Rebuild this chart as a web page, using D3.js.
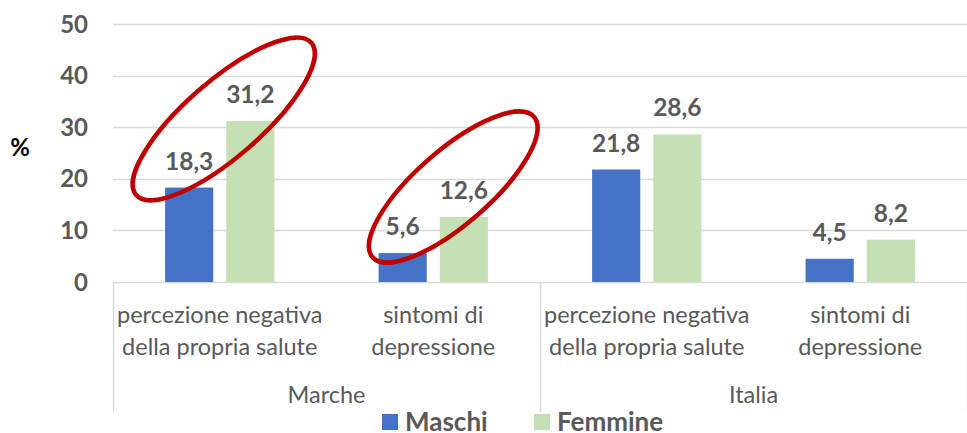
<!DOCTYPE html>
<html>
<head>
<meta charset="utf-8">
<script src="https://cdn.jsdelivr.net/npm/d3@7"></script>
<style>
  body { margin: 0; background: #fff; }
  text { font-family: Lato, "Open Sans", sans-serif; }
</style>
</head>
<body>
<svg id="chart" width="967" height="433"></svg>
<script>
var groups = ["Marche", "Italia"];
var categories = [["percezione negativa", "della propria salute"], ["sintomi di", "depressione"]];
var series = ["Maschi", "Femmine"];
var maschi = [18.3, 5.6, 21.8, 4.5];
var femmine = [31.2, 12.6, 28.6, 8.2];
var yTicks = [0, 10, 20, 30, 40, 50];
var colors = ["#4472C4", "#C5E0B4"];

// red circled pairs (Marche only), centre given in axis units
var highlights = [
  { group: "Marche", cat: 0, value: 31.6, shift: 4, rx: 116, ry: 38 },
  { group: "Marche", cat: 1, value: 18.4, shift: 20, rx: 107, ry: 37 }
];

var svg = d3.select("#chart"),
    plotLeft = 113, plotRight = 967, plotTop = 24, plotBottom = 282;

var it = d3.formatLocale({ decimal: ",", thousands: ".", grouping: [3], currency: ["", "€"] });
var fmt = it.format(".1f");

var y = d3.scaleLinear().domain([0, 50]).range([plotBottom, plotTop]);

var xGroup = d3.scaleBand().domain(groups).range([plotLeft, plotRight]);
var xCat = d3.scaleBand().domain(d3.range(categories.length)).range([0, xGroup.bandwidth()]);
var xSer = d3.scaleBand().domain(series).range([0, xCat.bandwidth()])
  .paddingInner(0.213).paddingOuter(0.852);

// gridlines
svg.append("g")
  .selectAll("line")
  .data(yTicks)
  .join("line")
  .attr("x1", plotLeft)
  .attr("x2", plotRight)
  .attr("y1", function(d){ return Math.round(y(d)) + 0.5; })
  .attr("y2", function(d){ return Math.round(y(d)) + 0.5; })
  .attr("stroke", "#d9d9d9")
  .attr("stroke-width", 1.5);

// y tick labels
svg.append("g")
  .selectAll("text")
  .data(yTicks)
  .join("text")
  .attr("x", 88)
  .attr("y", function(d){ return y(d); })
  .attr("dy", "0.36em")
  .attr("text-anchor", "end")
  .attr("font-size", 24)
  .attr("font-weight", "bold")
  .attr("fill", "#595959")
  .text(function(d){ return d; });

svg.append("text")
  .attr("x", 20)
  .attr("y", 147)
  .attr("dy", "0.36em")
  .attr("text-anchor", "middle")
  .attr("font-size", 24)
  .attr("font-weight", "bold")
  .attr("fill", "#000")
  .text("%");

// rows: one per group x category
var rows = [];
groups.forEach(function(g, gi){
  categories.forEach(function(c, ci){
    var k = gi * categories.length + ci;
    rows.push({ group: g, cat: ci, label: c, values: [maschi[k], femmine[k]] });
  });
});

function catX(d) { return xGroup(d.group) + xCat(d.cat); }

var cat = svg.append("g")
  .selectAll("g")
  .data(rows)
  .join("g")
  .attr("transform", function(d){ return "translate(" + catX(d) + ",0)"; });

var bars = cat.selectAll("g.bar")
  .data(function(d){ return d.values.map(function(v, i){ return { s: series[i], v: v, i: i }; }); })
  .join("g")
  .attr("class", "bar");

bars.append("rect")
  .attr("x", function(d){ return xSer(d.s); })
  .attr("width", xSer.bandwidth())
  .attr("y", function(d){ return y(d.v); })
  .attr("height", function(d){ return y(0) - y(d.v); })
  .attr("fill", function(d){ return colors[d.i]; });

bars.append("text")
  .attr("x", function(d){ return xSer(d.s) + xSer.bandwidth() / 2; })
  .attr("y", function(d){ return y(d.v) - 18; })
  .attr("text-anchor", "middle")
  .attr("font-size", 24.5)
  .attr("font-weight", "bold")
  .attr("fill", "#595959")
  .text(function(d){ return fmt(d.v); });

// category labels
cat.append("text")
  .attr("text-anchor", "middle")
  .attr("font-size", 23.5)
  .attr("fill", "#595959")
  .selectAll("tspan")
  .data(function(d){ return d.label; })
  .join("tspan")
  .attr("x", xCat.bandwidth() / 2)
  .attr("y", function(d, i){ return 323 + i * 32; })
  .text(function(d){ return d; });

// group labels and separators
svg.append("g")
  .selectAll("text")
  .data(groups)
  .join("text")
  .attr("x", function(d){ return xGroup(d) + xGroup.bandwidth() / 2; })
  .attr("y", 403)
  .attr("text-anchor", "middle")
  .attr("font-size", 23.5)
  .attr("fill", "#595959")
  .text(function(d){ return d; });

svg.append("g")
  .selectAll("line")
  .data(groups.concat([null]))
  .join("line")
  .attr("x1", function(d){ return Math.round(d ? xGroup(d) : plotRight) + 0.5; })
  .attr("x2", function(d){ return Math.round(d ? xGroup(d) : plotRight) + 0.5; })
  .attr("y1", plotBottom)
  .attr("y2", 412)
  .attr("stroke", "#d9d9d9")
  .attr("stroke-width", 1.5);

// red ellipses
svg.append("g")
  .selectAll("ellipse")
  .data(highlights)
  .join("ellipse")
  .attr("transform", function(d){
    var cx = xGroup(d.group) + xCat(d.cat) + xCat.bandwidth() / 2 + d.shift;
    return "translate(" + cx + "," + y(d.value) + ") rotate(-41)";
  })
  .attr("rx", function(d){ return d.rx; })
  .attr("ry", function(d){ return d.ry; })
  .attr("fill", "none")
  .attr("stroke", "#C00000")
  .attr("stroke-width", 4.5);

// legend
var legend = svg.append("g")
  .selectAll("g")
  .data(series)
  .join("g")
  .attr("transform", function(d, i){ return "translate(" + (382 + i * 152) + ",414)"; });

legend.append("rect")
  .attr("width", 16)
  .attr("height", 16)
  .attr("fill", function(d, i){ return colors[i]; });

legend.append("text")
  .attr("x", 23)
  .attr("y", 17)
  .attr("font-size", 26)
  .attr("font-weight", "bold")
  .attr("fill", "#595959")
  .text(function(d){ return d; });
</script>
</body>
</html>
